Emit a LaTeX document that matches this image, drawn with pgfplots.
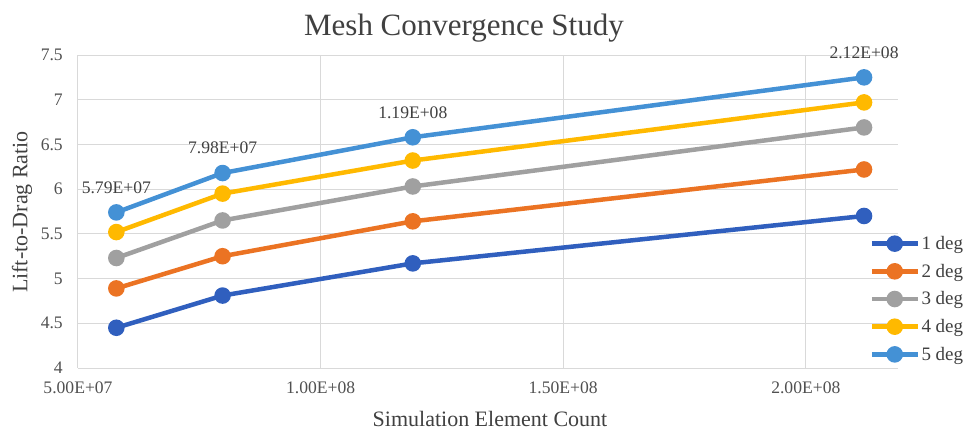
\documentclass[border=0pt]{standalone}
\usepackage{pgfplots}
\pgfplotsset{compat=1.18}
\usepackage{fontspec}
\setmainfont{Liberation Serif}
\definecolor{c1}{RGB}{48,95,190}
\definecolor{c2}{RGB}{235,115,35}
\definecolor{c3}{RGB}{160,160,160}
\definecolor{c4}{RGB}{255,185,0}
\definecolor{c5}{RGB}{68,145,213}
\definecolor{gridc}{RGB}{217,217,217}
\definecolor{txt}{RGB}{64,64,64}
\definecolor{tick}{RGB}{80,80,80}
\begin{document}
\begin{tikzpicture}
\begin{axis}[
  name=ax,
  at={(0,0)}, anchor=south west,
  scale only axis, width=820pt, height=313pt,
  xmin=5e7, xmax=2.19e8, ymin=4, ymax=7.5,
  scaled x ticks=false,
  xtick={5e7,1e8,1.5e8,2e8},
  xticklabels={5.00E+07,1.00E+08,1.50E+08,2.00E+08},
  ytick={4,4.5,5,5.5,6,6.5,7,7.5},
  /pgf/number format/assume math mode=true,
  yticklabel style={anchor=east, inner sep=0pt, xshift=-15pt, font=\fontsize{17.6}{20}\selectfont, text=tick},
  xticklabel style={anchor=north, inner sep=0pt, yshift=-14pt, font=\fontsize{17.6}{20}\selectfont, text=tick},
  major tick length=0pt,
  axis line style={draw=none},
  grid=major, grid style={gridc, line width=1pt},
  clip=false,
  legend cell align=left,
  legend image code/.code={\draw[#1,mark=none] (0pt,0pt) -- (46pt,0pt); \draw[#1, only marks] plot coordinates {(23pt,0pt)};},
  legend style={at={(0.965,0.2204)}, anchor=west, draw=none, fill=none, inner sep=0pt,
    font=\fontsize{19}{22}\selectfont, text=txt, row sep=9pt, column sep=0pt,
    nodes={inner xsep=1.5pt}},
  every axis plot/.append style={line width=4.5pt, mark=*, mark size=6pt, mark options={solid}},
]
\addplot[c1] coordinates {(5.79e7,4.45) (7.98e7,4.81) (1.19e8,5.17) (2.12e8,5.70)};
\addlegendentry{1 deg}
\addplot[c2] coordinates {(5.79e7,4.89) (7.98e7,5.25) (1.19e8,5.64) (2.12e8,6.22)};
\addlegendentry{2 deg}
\addplot[c3] coordinates {(5.79e7,5.23) (7.98e7,5.65) (1.19e8,6.03) (2.12e8,6.69)};
\addlegendentry{3 deg}
\addplot[c4] coordinates {(5.79e7,5.52) (7.98e7,5.95) (1.19e8,6.32) (2.12e8,6.97)};
\addlegendentry{4 deg}
\addplot[c5, point meta=explicit symbolic,
  nodes near coords, nodes near coords style={anchor=center, yshift=25pt, text=txt, font=\fontsize{17.6}{20}\selectfont, inner sep=0pt}]
  table[meta=lab] {
x y lab
5.79e7 5.74 5.79E+07
7.98e7 6.18 7.98E+07
1.19e8 6.58 1.19E+08
2.12e8 7.25 2.12E+08
};
\addlegendentry{5 deg}
\end{axis}
\node[text=txt, font=\fontsize{31}{34}\selectfont] at ([shift={(386pt,340pt)}]ax.south west) {Mesh Convergence Study};
\node[text=txt, font=\fontsize{22}{24}\selectfont] at ([shift={(412pt,-51pt)}]ax.south west) {Simulation Element Count};
\node[text=txt, font=\fontsize{22}{24}\selectfont, rotate=90] at ([shift={(-56pt,156pt)}]ax.south west) {Lift-to-Drag Ratio};
\pgfresetboundingbox
\path[use as bounding box] ([shift={(-78pt,-64pt)}]ax.south west) rectangle ++(967pt,432pt);
\end{tikzpicture}
\end{document}
